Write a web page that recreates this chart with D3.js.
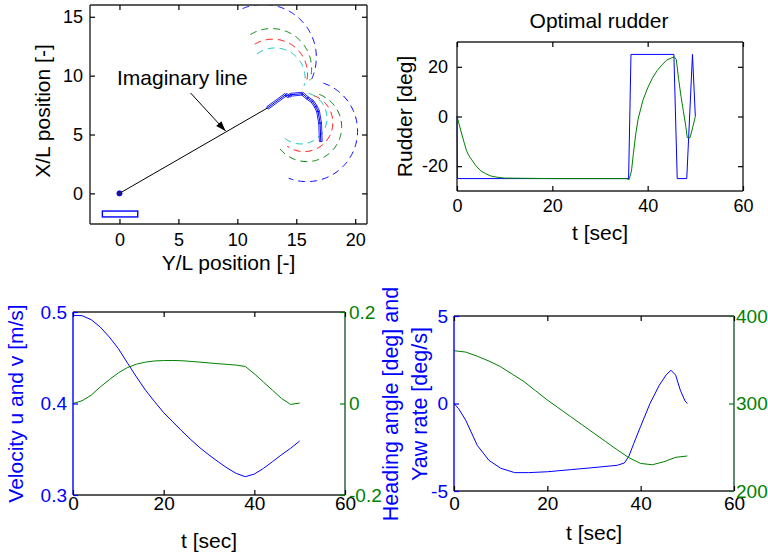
<!DOCTYPE html>
<html>
<head>
<meta charset="utf-8">
<script src="https://cdn.jsdelivr.net/npm/d3@7/dist/d3.min.js"></script>
<style>
  html, body { margin: 0; padding: 0; background: #fff; }
  svg { display: block; }
  text { font-family: "Liberation Sans", Arial, Helvetica, sans-serif; }
</style>
</head>
<body>
<script>
// ---------- Trajectory (Y/L, X/L) ----------
const lineStart = [0, 0];
const lineEnd = [12.55, 7.25];
const trailY = [12.55, 14.1, 14.38, 14.53, 15.52, 15.95, 16.37, 16.65, 16.85, 17.02, 17.08];
const trailX = [7.25, 8.38, 8.24, 8.38, 8.47, 8.1, 7.81, 7.38, 6.96, 5.97, 4.4];
const shipBox = [-1.45, -2.0, 1.55, -1.5];       // y0, x0, y1, x1
const arrowFrom = [6.03, 8.53];
const arrowTo = [9.0, 5.3];
// turning circles: centre (Y, X), radius, start / end angle [deg]
const upperCx = [12.2, 12.9, 13.0, 13.2];
const upperCy = [11.55, 10.6, 10.15, 9.8];
const upperR = [4.5, 3.4, 2.95, 2.55];
const upperA0 = [113, 122, 121, 127];
const upperA1 = [-28, -17, -15, -15];
const lowerCx = [15.9, 15.9, 15.65, 15.4];
const lowerCy = [5.3, 5.65, 6.0, 6.4];
const lowerR = [4.3, 2.95, 2.45, 2.2];
const lowerA0 = [71, 69, 70, 73];
const lowerA1 = [-111, -140, -125, -137];
const circleNames = ["blue", "green", "red", "cyan"];

// ---------- Optimal rudder ----------
const rudderCmdT = [0, 0.1, 36, 36.5, 45.5, 46.2, 48.2, 49.4, 50];
const rudderCmd = [0, -25, -25, 25, 25, -25, -25, 25, 0];
const rudderActT = [0, 0.5, 1, 1.5, 2, 2.5, 3, 4, 5, 6, 7, 8, 9, 10, 20, 30, 35.5, 36.1, 36.6, 37, 37.5, 38, 39, 40, 41, 42, 43, 44, 45, 45.6, 46, 46.5, 47, 47.5, 48, 48.3, 48.9, 49.5, 50];
const rudderAct = [0, -3.5, -7.1, -10.5, -13.8, -15.8, -17.2, -19.9, -21.9, -23, -23.9, -24.3, -24.6, -24.8, -25, -25, -25, -25.4, -22, -15, -7, -1, 6.5, 11.5, 15.5, 18.5, 20.8, 22.7, 23.6, 24, 23, 15, 8, 2, -4, -8.5, -8.5, -4, 0];

// ---------- Velocities u, v ----------
const velT = [0, 2, 4, 6, 8, 10, 12, 14, 16, 18, 20, 22, 24, 26, 28, 30, 32, 34, 36, 38, 40, 42, 44, 46, 48, 50];
const velU = [0.4964, 0.496, 0.4916, 0.4836, 0.4727, 0.46, 0.4444, 0.429, 0.4145, 0.402, 0.39, 0.38, 0.37, 0.3605, 0.3516, 0.3437, 0.3364, 0.3295, 0.3236, 0.32, 0.3229, 0.329, 0.3364, 0.344, 0.351, 0.359];
const velV = [0, 0.006, 0.018, 0.036, 0.052, 0.067, 0.0785, 0.086, 0.0905, 0.093, 0.0938, 0.094, 0.0935, 0.092, 0.0905, 0.0887, 0.087, 0.0855, 0.084, 0.081, 0.065, 0.047, 0.029, 0.011, -0.002, 0.001];

// ---------- Yaw rate and heading ----------
const yawT = [0, 1, 2.5, 5, 7.5, 10, 13, 16, 20, 25, 30, 35, 36.5, 37.5, 38.5, 40, 42, 44, 45.5, 46.5, 47.5, 48.5, 49.5, 50];
const yawRate = [0, -0.3, -0.95, -2.4, -3.25, -3.7, -3.95, -3.95, -3.9, -3.78, -3.66, -3.53, -3.4, -3.0, -2.3, -1.3, 0, 1.05, 1.65, 1.9, 1.62, 0.76, 0.15, 0];
const headT = [0, 2.5, 5, 7.5, 10, 12.5, 15, 17.5, 20, 22.5, 25, 27.5, 30, 32.5, 35, 37.5, 40, 42.5, 45, 47.5, 50];
const heading = [360.3, 358.8, 354, 348.5, 342, 333.5, 325, 314.5, 304, 294.5, 285, 275.5, 266, 256.5, 247, 238, 231.5, 230, 233.5, 238.5, 240];

// tick values
const ticksA_x = [0, 5, 10, 15, 20];
const ticksA_y = [0, 5, 10, 15];
const ticksT = [0, 20, 40, 60];
const ticksB_y = [-20, 0, 20];
const ticksC_l = [0.3, 0.4, 0.5];
const ticksC_r = [-0.2, 0, 0.2];
const ticksD_l = [-5, 0, 5];
const ticksD_r = [200, 300, 400];

const COL = { blue: "#0000ff", green: "#008000", red: "#ff0000", cyan: "#00bfbf", frame: "#262626", rightAx: "#1f5a3a" };
const LABEL_FS = 21;

const svg = d3.select("body").append("svg").attr("width", 768).attr("height", 560);

function zip(a, b) { return a.map((v, i) => [v, b[i]]); }
const fmt = d => String(d);

function frame(g, x, y, c) {
  const [x0, x1] = x.range(), [y1, y0] = y.range();
  const seg = (a, b, cc, d, col) => g.append("line").attr("x1", a).attr("y1", b).attr("x2", cc).attr("y2", d)
    .attr("stroke", col).attr("stroke-width", 1.4);
  seg(x0, y0, x1, y0, c.top); seg(x0, y1, x1, y1, c.bottom);
  seg(x0, y0, x0, y1, c.left); seg(x1, y0, x1, y1, c.right);
}

function axis(g, gen, tx, ty, color, fs) {
  const a = g.append("g").attr("transform", `translate(${tx},${ty})`).call(gen);
  a.select(".domain").remove();
  a.selectAll(".tick line").attr("stroke", color).attr("stroke-width", 1.2);
  if (fs) {
    a.selectAll(".tick text").attr("fill", color).attr("font-size", fs)
      .attr("font-family", '"Liberation Sans", Arial, sans-serif');
  } else {
    a.selectAll(".tick text").remove();
  }
  return a;
}

function xAxes(g, x, y, vals, pad, fs) {
  const [yb, yt] = y.range();
  axis(g, d3.axisBottom(x).tickValues(vals).tickSize(-5).tickPadding(pad).tickFormat(fmt), 0, yb, "#000", fs);
  axis(g, d3.axisTop(x).tickValues(vals).tickSize(-5).tickFormat(""), 0, yt, "#000", 0);
}

function label(g, txt, x, y, rot, color, size, anchor) {
  return g.append("text").attr("transform", `translate(${x},${y}) rotate(${rot})`)
    .attr("text-anchor", anchor || "middle").attr("fill", color || "#000")
    .attr("font-size", size || LABEL_FS).text(txt);
}

const line = (x, y) => d3.line().x(d => x(d[0])).y(d => y(d[1]));

// ================= Panel A: trajectory =================
{
  const fs = 18;
  const g = svg.append("g");
  const x = d3.scaleLinear([-2.5, 21], [90, 367]);
  const y = d3.scaleLinear([-2.6, 16], [224, 5]);
  const clipId = "clipA";
  svg.append("defs").append("clipPath").attr("id", clipId).append("rect")
    .attr("x", 90).attr("y", 5).attr("width", 277).attr("height", 219);
  const plot = g.append("g").attr("clip-path", `url(#${clipId})`);

  const arc = (cx, cy, r, a0, a1) => d3.range(0, 121).map(i => {
    const a = (a0 + (a1 - a0) * i / 120) * Math.PI / 180;
    return [cx + r * Math.cos(a), cy + r * Math.sin(a)];
  });
  circleNames.forEach((n, i) => {
    plot.append("path").datum(arc(upperCx[i], upperCy[i], upperR[i], upperA0[i], upperA1[i]))
      .attr("d", line(x, y)).attr("fill", "none").attr("stroke", COL[n]).attr("stroke-width", 1)
      .attr("stroke-dasharray", "7,5");
    plot.append("path").datum(arc(lowerCx[i], lowerCy[i], lowerR[i], lowerA0[i], lowerA1[i]))
      .attr("d", line(x, y)).attr("fill", "none").attr("stroke", COL[n]).attr("stroke-width", 1)
      .attr("stroke-dasharray", "7,5");
  });

  // imaginary line
  plot.append("line").attr("x1", x(lineStart[0])).attr("y1", y(lineStart[1]))
    .attr("x2", x(lineEnd[0])).attr("y2", y(lineEnd[1])).attr("stroke", "#000").attr("stroke-width", 1);

  // ship trail: centre line plus hull outlines along each leg
  const trail = zip(trailY, trailX);
  plot.append("path").datum(trail).attr("d", line(x, y)).attr("fill", "none")
    .attr("stroke", COL.blue).attr("stroke-width", 1);
  for (let i = 0; i < trail.length - 1; i++) {
    const ax = x(trail[i][0]), ay = y(trail[i][1]), bx = x(trail[i + 1][0]), by = y(trail[i + 1][1]);
    const len = Math.hypot(bx - ax, by - ay), ang = Math.atan2(by - ay, bx - ax) * 180 / Math.PI;
    plot.append("rect").attr("x", -len / 2).attr("y", -1.4).attr("width", len).attr("height", 2.8)
      .attr("transform", `translate(${(ax + bx) / 2},${(ay + by) / 2}) rotate(${ang})`)
      .attr("fill", "none").attr("stroke", COL.blue).attr("stroke-width", 0.8);
  }

  // start point
  plot.append("circle").attr("cx", x(0)).attr("cy", y(0)).attr("r", 2.6)
    .attr("fill", "#1a1a80").attr("stroke", COL.blue).attr("stroke-width", 0.8);

  // ship
  plot.append("rect").attr("x", x(shipBox[0])).attr("y", y(shipBox[3]))
    .attr("width", x(shipBox[2]) - x(shipBox[0])).attr("height", y(shipBox[1]) - y(shipBox[3]))
    .attr("fill", "#fff").attr("stroke", COL.blue).attr("stroke-width", 1.4);

  // annotation arrow
  const ax0 = x(arrowFrom[0]), ay0 = y(arrowFrom[1]), ax1 = x(arrowTo[0]), ay1 = y(arrowTo[1]);
  const ang = Math.atan2(ay1 - ay0, ax1 - ax0);
  plot.append("line").attr("x1", ax0).attr("y1", ay0).attr("x2", ax1).attr("y2", ay1)
    .attr("stroke", "#000").attr("stroke-width", 1);
  const hl = 10, hw = 3.5;
  const bxp = ax1 - hl * Math.cos(ang), byp = ay1 - hl * Math.sin(ang);
  plot.append("path").attr("d",
    `M${ax1},${ay1}L${bxp + hw * Math.sin(ang)},${byp - hw * Math.cos(ang)}L${bxp - hw * Math.sin(ang)},${byp + hw * Math.cos(ang)}Z`)
    .attr("fill", "#000");
  label(g, "Imaginary line", 117, 85, 0, "#000", LABEL_FS, "start");

  frame(g, x, y, { top: COL.frame, bottom: COL.frame, left: COL.frame, right: COL.frame });
  xAxes(g, x, y, ticksA_x, 9, fs);
  axis(g, d3.axisLeft(y).tickValues(ticksA_y).tickSize(-5).tickPadding(7).tickFormat(fmt), 90, 0, "#000", fs);
  axis(g, d3.axisRight(y).tickValues(ticksA_y).tickSize(-5).tickFormat(""), 367, 0, "#000", 0);
  label(g, "Y/L position [-]", 228.5, 270, 0);
  label(g, "X/L position [-]", 50, 111, -90);
}

// ================= Panel B: optimal rudder =================
{
  const fs = 18;
  const g = svg.append("g");
  const x = d3.scaleLinear([0, 60], [457, 743]);
  const y = d3.scaleLinear([-30, 30], [191, 42]);
  g.append("path").datum(zip(rudderCmdT, rudderCmd)).attr("d", line(x, y))
    .attr("fill", "none").attr("stroke", COL.blue).attr("stroke-width", 1);
  g.append("path").datum(zip(rudderActT, rudderAct)).attr("d", line(x, y))
    .attr("fill", "none").attr("stroke", COL.green).attr("stroke-width", 1);
  frame(g, x, y, { top: COL.frame, bottom: COL.frame, left: COL.frame, right: COL.frame });
  xAxes(g, x, y, ticksT, 8, fs);
  axis(g, d3.axisLeft(y).tickValues(ticksB_y).tickSize(-5).tickPadding(9).tickFormat(fmt), 457, 0, "#000", fs);
  axis(g, d3.axisRight(y).tickValues(ticksB_y).tickSize(-5).tickFormat(""), 743, 0, "#000", 0);
  label(g, "Optimal rudder", 599, 28, 0);
  label(g, "t [sec]", 600, 240, 0);
  label(g, "Rudder [deg]", 412, 116.5, -90);
}

// ================= Panel C: velocities =================
{
  const fs = 19;
  const g = svg.append("g");
  const x = d3.scaleLinear([0, 60], [73, 345]);
  const yl = d3.scaleLinear([0.3, 0.5], [495, 312]);
  const yr = d3.scaleLinear([-0.2, 0.2], [495, 312]);
  g.append("path").datum(zip(velT, velU)).attr("d", line(x, yl))
    .attr("fill", "none").attr("stroke", COL.blue).attr("stroke-width", 1);
  g.append("path").datum(zip(velT, velV)).attr("d", line(x, yr))
    .attr("fill", "none").attr("stroke", COL.green).attr("stroke-width", 1);
  frame(g, x, yl, { top: COL.frame, bottom: COL.frame, left: COL.blue, right: COL.rightAx });
  xAxes(g, x, yl, ticksT, 1.5, fs);
  axis(g, d3.axisLeft(yl).tickValues(ticksC_l).tickSize(-5).tickPadding(6).tickFormat(fmt), 73, 0, COL.blue, fs);
  axis(g, d3.axisRight(yr).tickValues(ticksC_r).tickSize(-5).tickPadding(4).tickFormat(fmt), 345, 0, COL.green, fs);
  label(g, "t [sec]", 209, 548, 0);
  label(g, "Velocity u and v [m/s]", 23, 403.5, -90, COL.blue);
}

// ================= Panel D: yaw rate and heading =================
{
  const fs = 19;
  const g = svg.append("g");
  const x = d3.scaleLinear([0, 60], [454, 734]);
  const yl = d3.scaleLinear([-5, 5], [491, 316]);
  const yr = d3.scaleLinear([200, 400], [491, 316]);
  g.append("path").datum(zip(yawT, yawRate)).attr("d", line(x, yl))
    .attr("fill", "none").attr("stroke", COL.blue).attr("stroke-width", 1);
  g.append("path").datum(zip(headT, heading)).attr("d", line(x, yr))
    .attr("fill", "none").attr("stroke", COL.green).attr("stroke-width", 1);
  frame(g, x, yl, { top: COL.frame, bottom: COL.frame, left: COL.blue, right: COL.rightAx });
  xAxes(g, x, yl, ticksT, 6, fs);
  axis(g, d3.axisLeft(yl).tickValues(ticksD_l).tickSize(-5).tickPadding(6).tickFormat(fmt), 454, 0, COL.blue, fs);
  axis(g, d3.axisRight(yr).tickValues(ticksD_r).tickSize(-5).tickPadding(2).tickFormat(fmt), 734, 0, COL.green, fs);
  label(g, "t [sec]", 594, 540, 0);
  label(g, "Heading angle [deg] and", 398, 404, -90, COL.blue, 21.5);
  label(g, "Yaw rate [deg/s]", 427, 404, -90, COL.blue, 21.5);
}
</script>
</body>
</html>
